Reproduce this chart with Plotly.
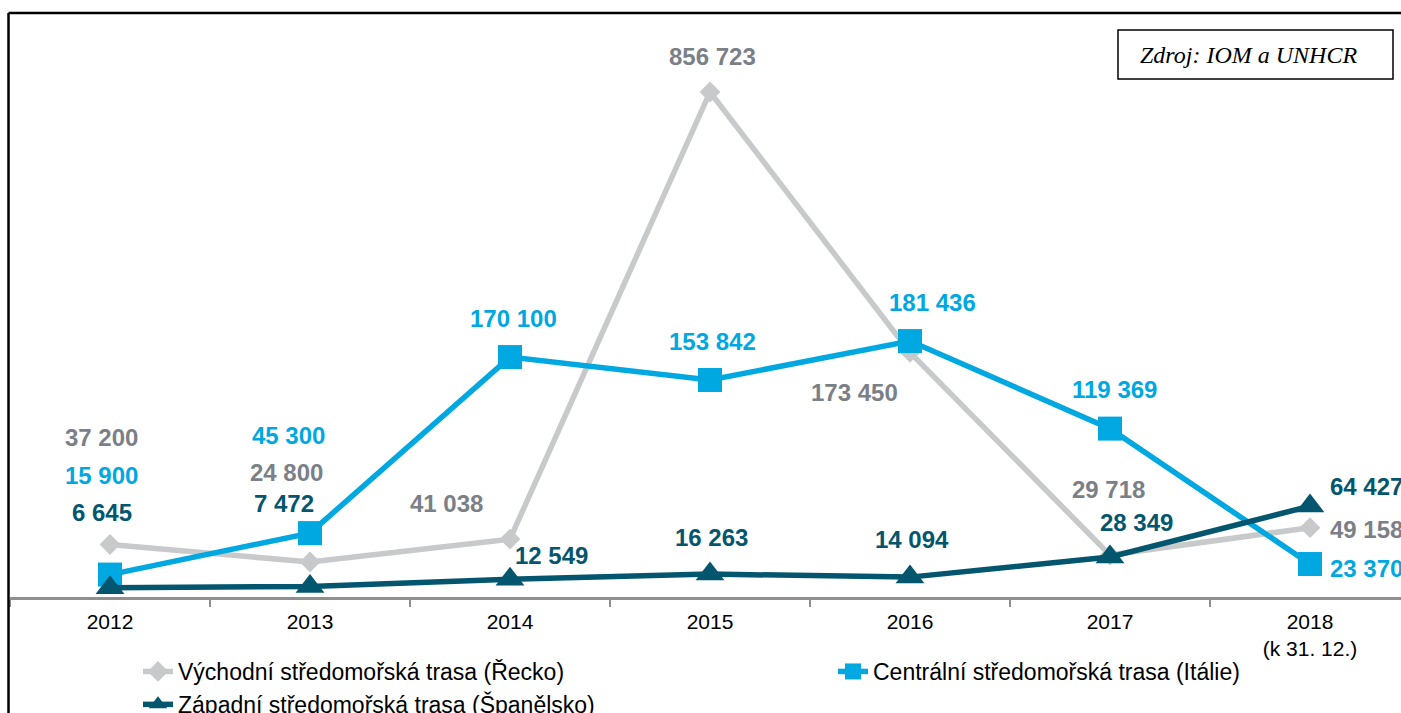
import plotly.graph_objects as go

# categories / tick labels
tick_labels = ["2012", "2013", "2014", "2015", "2016", "2017", "2018<br>(k 31. 12.)"]

# arrivals per route (values shown in labels)
greece = [37200, 24800, 41038, 856723, 173450, 29718, 49158]
italy = [15900, 45300, 170100, 153842, 181436, 119369, 23370]
spain = [6645, 7472, 12549, 16263, 14094, 28349, 64427]

# the 2015 Greek point is drawn truncated in the original chart
greece_plotted = [37200, 24800, 41038, 358000, 173450, 29718, 49158]

GREY_LINE = "#c8c9cb"
GREY_TEXT = "#7b7f87"
BLUE = "#00a8e1"
TEAL = "#03566e"


def fmt(v):
    return f"{v:,}".replace(",", " ")


def px(x):  # page x -> paper
    return (x - 10) / 1391


def py(y):  # page y -> paper
    return (597 - y) / 584


fig = go.Figure()

fig.add_trace(go.Scatter(
    x=tick_labels, y=greece_plotted, name="Východní středomořská trasa (Řecko)",
    mode="lines+markers", legend="legend",
    line=dict(color=GREY_LINE, width=5.5),
    marker=dict(symbol="diamond", size=16, color=GREY_LINE),
))
fig.add_trace(go.Scatter(
    x=tick_labels, y=italy, name="Centrální středomořská trasa (Itálie)",
    mode="lines+markers", legend="legend2",
    line=dict(color=BLUE, width=5.5),
    marker=dict(symbol="square", size=24, color=BLUE),
))
fig.add_trace(go.Scatter(
    x=tick_labels, y=spain, name="Západní středomořská trasa (Španělsko)",
    mode="lines+markers", legend="legend",
    line=dict(color=TEAL, width=5.5),
    marker=dict(symbol="triangle-up", size=25, color=TEAL),
))

# label offsets in pixels (dx, dy) relative to each point; last column left-anchored
greece_off = [(-9, 107), (-24, 90), (-64, 36), (2, 36), (-56, -40), (-2, 66), (18, -2)]
italy_off = [(-9, 99), (-22, 98), (3, 39), (2, 38), (22, 39), (4, 39), (18, -4)]
spain_off = [(-8, 75), (-26, 83), (41, 24), (1, 37), (2, 38), (26, 35), (18, 20)]

annotations = []
for vals, drawn, offs, col in [
    (greece, greece_plotted, greece_off, GREY_TEXT),
    (italy, italy, italy_off, BLUE),
    (spain, spain, spain_off, TEAL),
]:
    for i, (v, d, (dx, dy)) in enumerate(zip(vals, drawn, offs)):
        last = i == len(vals) - 1
        annotations.append(dict(
            x=i, y=d, xref="x", yref="y", text=fmt(v), showarrow=False,
            xshift=dx, yshift=dy,
            xanchor="left" if last else "center", yanchor="middle",
            font=dict(family="Liberation Sans, Arial", size=24, color=col, weight="bold"),
        ))

# source box
annotations.append(dict(
    x=px(1138), y=py(55), xref="paper", yref="paper",
    text="<i>Zdroj: IOM a UNHCR</i>", showarrow=False, xanchor="left", yanchor="middle",
    font=dict(family="Liberation Serif, Times New Roman", size=24, color="black"),
))

shapes = [
    dict(type="rect", xref="paper", yref="paper",
         x0=px(1118), x1=px(1393), y0=py(79), y1=py(30),
         line=dict(color="black", width=1.5)),
    # outer frame (top and left edges)
    dict(type="line", xref="paper", yref="paper", x0=px(8.5), x1=1.01,
         y0=py(13), y1=py(13), line=dict(color="black", width=2.5)),
    dict(type="line", xref="paper", yref="paper", x0=px(8.5), x1=px(8.5),
         y0=py(13), y1=py(730), line=dict(color="black", width=2.5)),
]

legend_style = dict(
    orientation="v", yanchor="top", xanchor="left",
    font=dict(size=23, color="black"), bgcolor="rgba(0,0,0,0)",
)

fig.update_layout(
    width=1401, height=713,
    margin=dict(l=10, r=0, t=13, b=116, autoexpand=False),
    paper_bgcolor="white", plot_bgcolor="white",
    font=dict(family="Liberation Sans, Arial", color="black"),
    showlegend=True,
    legend=dict(x=px(138), y=py(650), **legend_style),
    legend2=dict(x=px(833), y=py(650), **legend_style),
    annotations=annotations,
    shapes=shapes,
    xaxis=dict(
        type="category", range=[-0.5, 6.455],
        showline=True, linecolor="#8f8f8f", linewidth=2.5,
        ticks="outside", tickson="boundaries", ticklen=7, tickcolor="#8f8f8f", tickwidth=2,
        ticklabelstandoff=4,
        showgrid=False, tickfont=dict(size=21, color="black"),
    ),
    yaxis=dict(range=[0, 414000], visible=False, showgrid=False, zeroline=False),
    hovermode=False,
)

# drop the default body margin so the figure fills the window exactly
fig.write_html(
    "out.html",
    config={"displayModeBar": False},
    post_script="document.body.style.margin='0';document.body.style.overflow='hidden';",
)
